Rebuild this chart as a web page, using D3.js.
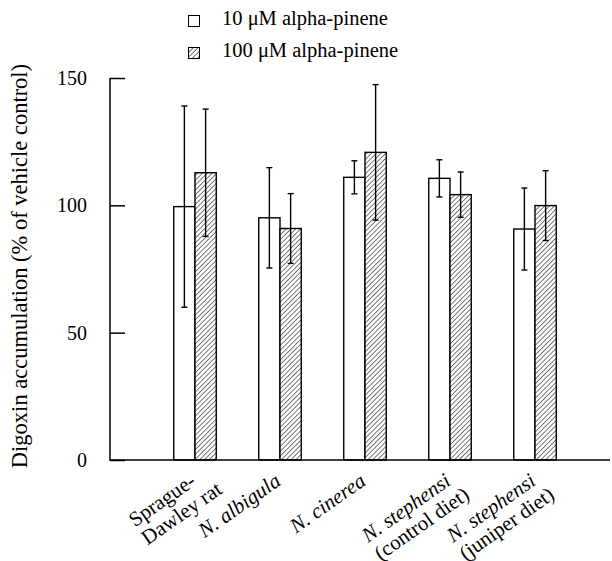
<!DOCTYPE html>
<html><head><meta charset="utf-8">
<script src="https://cdn.jsdelivr.net/npm/d3@7"></script>
<style>body{margin:0;background:#fff}svg{display:block}svg text{font-family:'Liberation Serif','DejaVu Serif',serif;fill:#000}</style>
</head><body><svg id="c" width="612" height="561" font-family="Liberation Serif, DejaVu Serif, serif"></svg>
<script>
const categories = ["Sprague-Dawley rat","N. albigula","N. cinerea","N. stephensi (control diet)","N. stephensi (juniper diet)"];
const labelLines = [
  [[{t:"Sprague-",i:false}],[{t:"Dawley rat",i:false}]],
  [[{t:"N. albigula",i:true}]],
  [[{t:"N. cinerea",i:true}]],
  [[{t:"N. stephensi",i:true}],[{t:"(control diet)",i:false}]],
  [[{t:"N. stephensi",i:true}],[{t:"(juniper diet)",i:false}]]
];
const seriesNames = ["10 \u03BCM alpha-pinene","100 \u03BCM alpha-pinene"];
const mean10  = [99.5, 95.1, 111.0, 110.6, 90.7];
const err10   = [39.5, 19.7, 6.5, 7.3, 16.1];
const mean100 = [112.8, 90.9, 120.8, 104.2, 99.9];
const err100  = [25.0, 13.7, 26.6, 8.9, 13.7];
const yTicks = [0, 50, 100, 150];
const yLabel = "Digoxin accumulation (% of vehicle control)";

const FONT = "'Liberation Serif','DejaVu Serif',serif";
const svg = d3.select("#c");
const defs = svg.append("defs");
const pat = defs.append("pattern").attr("id","hatch").attr("patternUnits","userSpaceOnUse")
  .attr("width",3.4).attr("height",3.4).attr("patternTransform","rotate(45)");
pat.append("rect").attr("width",3.4).attr("height",3.4).attr("fill","#fff");
pat.append("line").attr("x1",0).attr("y1",0).attr("x2",0).attr("y2",3.4).attr("stroke","#333").attr("stroke-width",1.3);

const x = d3.scaleBand().domain(categories).range([152.5, 577.5]).padding(0);
const xs = d3.scaleBand().domain([0,1]).range([0, x.bandwidth()]).paddingOuter(1).paddingInner(0);
const y = d3.scaleLinear().domain([0,150]).range([460,78]);

const data = categories.map((c,i)=>[
  {c, s:0, m:mean10[i], e:err10[i]},
  {c, s:1, m:mean100[i], e:err100[i]}
]).flat();

// bars
svg.append("g").selectAll("rect").data(data).join("rect")
  .attr("x", d=>x(d.c)+xs(d.s)).attr("y", d=>y(d.m))
  .attr("width", xs.bandwidth()).attr("height", d=>y(0)-y(d.m))
  .attr("fill", d=>d.s===0?"#fff":"url(#hatch)")
  .attr("stroke","#000").attr("stroke-width",1.4);

// error bars
const eg = svg.append("g").attr("stroke","#000").attr("stroke-width",1.4);
data.forEach(d=>{
  const cx = x(d.c)+xs(d.s)+xs.bandwidth()/2;
  eg.append("line").attr("x1",cx).attr("x2",cx).attr("y1",y(d.m+d.e)).attr("y2",y(d.m-d.e));
  eg.append("line").attr("x1",cx-3).attr("x2",cx+3).attr("y1",y(d.m+d.e)).attr("y2",y(d.m+d.e));
  eg.append("line").attr("x1",cx-3).attr("x2",cx+3).attr("y1",y(d.m-d.e)).attr("y2",y(d.m-d.e));
});

// axes
const yAxis = d3.axisRight(y).tickValues(yTicks).tickSize(15).tickFormat("");
const ya = svg.append("g").attr("transform","translate(110,0)").call(yAxis);
ya.select(".domain").remove();
ya.selectAll("line").attr("stroke","#000").attr("stroke-width",1.5);
svg.append("line").attr("x1",110).attr("x2",110).attr("y1",y(150)).attr("y2",y(0)).attr("stroke","#000").attr("stroke-width",1.5);
svg.append("line").attr("x1",109.25).attr("x2",610).attr("y1",y(0)).attr("y2",y(0)).attr("stroke","#000").attr("stroke-width",1.5);
svg.append("g").selectAll("text").data(yTicks).join("text")
  .attr("x",87).attr("y",d=>y(d)).attr("dy","0.35em").attr("text-anchor","end")
  .style("font-family",FONT).style("font-size","20px").text(d=>d);

// y label
svg.append("text").attr("transform","translate(27,266) rotate(-90)")
  .attr("text-anchor","middle").style("font-family",FONT).style("font-size","22.5px").text(yLabel);

// x labels
const ang = -35;
categories.forEach((c,i)=>{
  const g = svg.append("g").attr("transform",`translate(${x(c)+x.bandwidth()/2+2},484) rotate(${ang})`);
  const lines = labelLines[i];
  const t1 = g.append("text").style("font-family",FONT).style("font-size","21px");
  lines[0].forEach(p=>t1.append("tspan").style("font-style",p.i?"italic":"normal").text(p.t));
  const L1 = t1.node().getComputedTextLength();
  t1.attr("x",-L1);
  lines.slice(1).forEach((ln,k)=>{
    const t = g.append("text").style("font-family",FONT).style("font-size","21px").attr("x",-L1).attr("y",22*(k+1));
    ln.forEach(p=>t.append("tspan").style("font-style",p.i?"italic":"normal").text(p.t));
  });
});

// legend
const lg = svg.append("g");
seriesNames.forEach((s,i)=>{
  lg.append("rect").attr("x",188.5).attr("y",15.5+32*i).attr("width",11).attr("height",11)
    .attr("fill", i===0?"#fff":"url(#hatch)").attr("stroke","#000").attr("stroke-width",1);
  lg.append("text").attr("x",222).attr("y",25+32*i).style("font-family",FONT).style("font-size","20.5px").text(s);
});
</script></body></html>
